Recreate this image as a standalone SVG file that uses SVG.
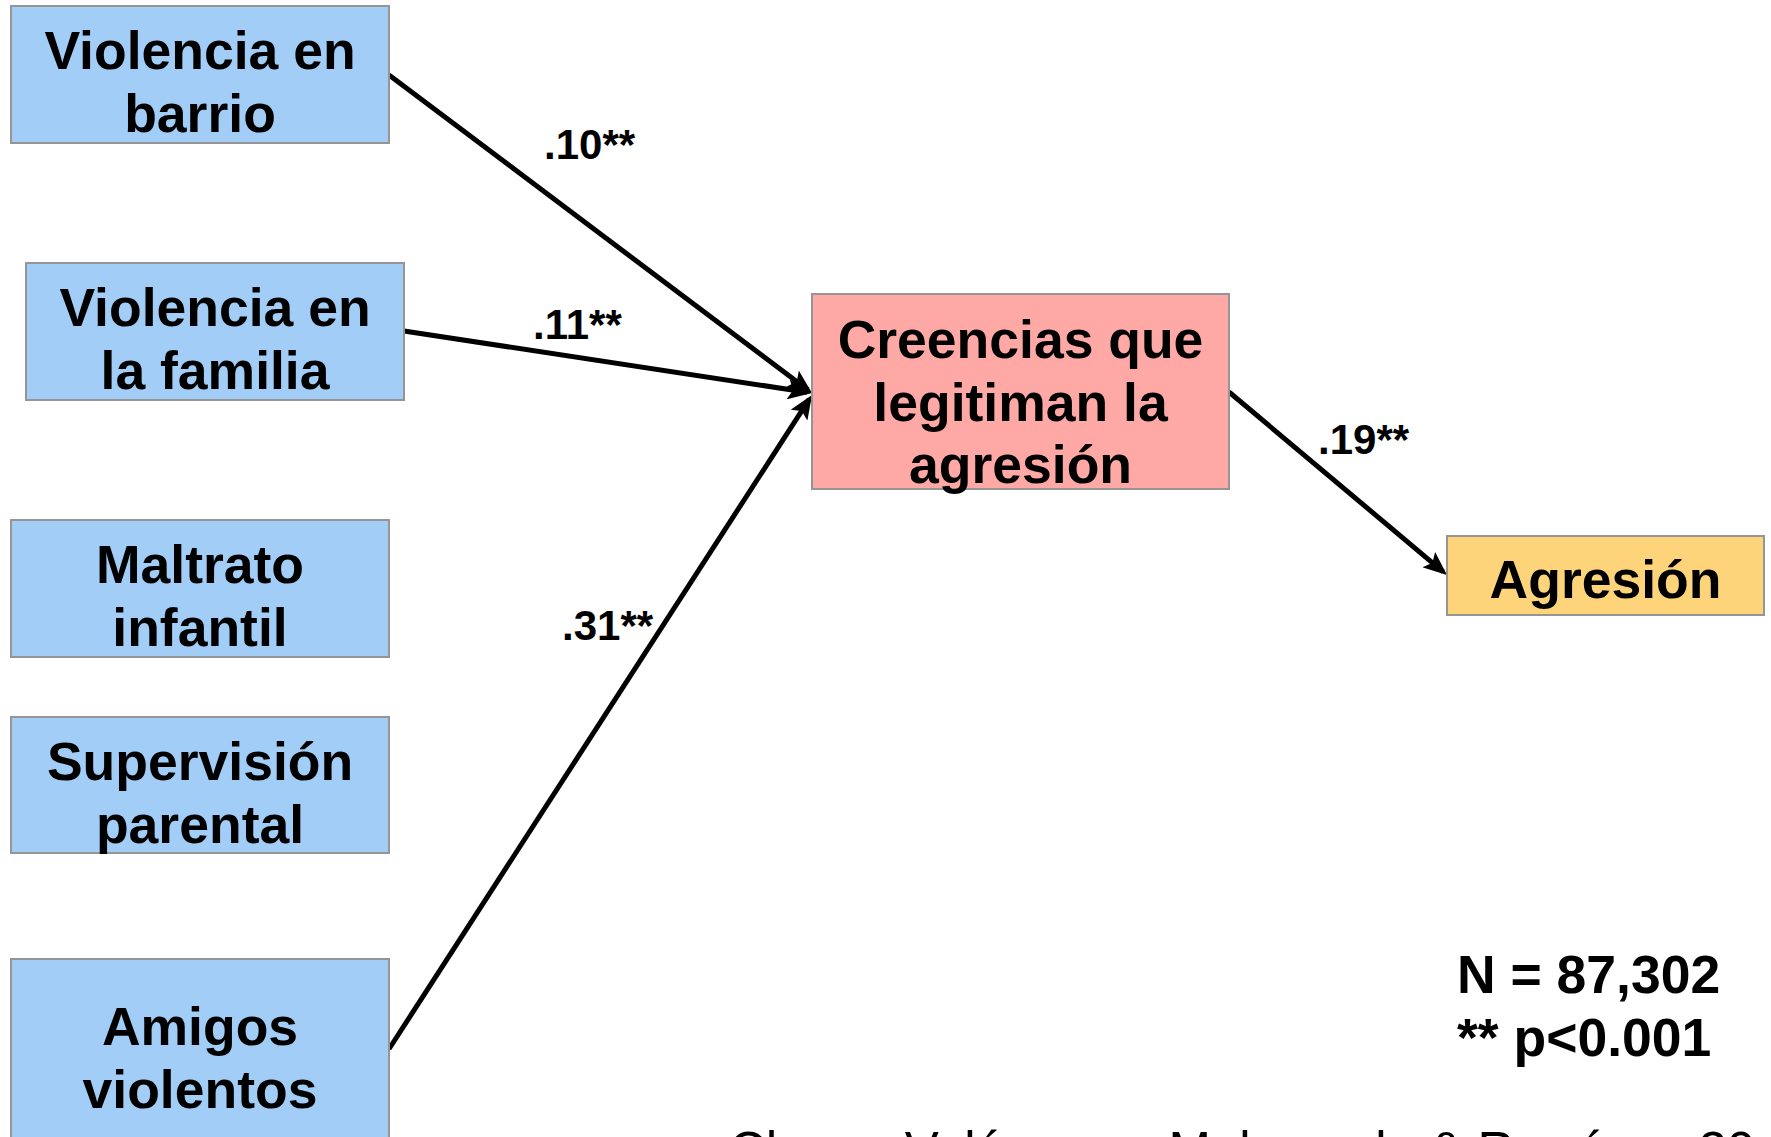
<svg xmlns="http://www.w3.org/2000/svg" width="1771" height="1137" viewBox="0 0 1771 1137">
<style>
.box{stroke:#959595;stroke-width:2}
.blue{fill:#A2CDF7}
.pink{fill:#FEA9A6}
.yellow{fill:#FED47A}
.nt{font-family:"Liberation Sans",Arial,sans-serif;font-weight:bold;font-size:53.5px;fill:#000;text-anchor:middle}
.lbl{font-family:"Liberation Sans",Arial,sans-serif;font-weight:bold;font-size:42px;fill:#000}
.note{font-family:"Liberation Sans",Arial,sans-serif;font-weight:bold;font-size:53.5px;fill:#000}
.cite{font-family:"Liberation Sans",Arial,sans-serif;font-size:51px;fill:#000}
.conn{stroke:#000;stroke-width:5;fill:none;marker-end:url(#ah)}
</style>
<defs>
<marker id="ah" markerUnits="userSpaceOnUse" viewBox="0 0 24 20" markerWidth="24" markerHeight="20" refX="19" refY="10" orient="auto">
<path d="M0,0 L24,10 L0,20 L5,10 z" fill="#000"/>
</marker>
</defs>
<rect width="1771" height="1137" fill="#fff"/>
<g id="connectors">
<line class="conn" x1="389" y1="75" x2="808" y2="390"/>
<line class="conn" x1="404" y1="331" x2="807" y2="392.2"/>
<line class="conn" x1="389" y1="1049" x2="809.3" y2="399.2"/>
<line class="conn" x1="1229" y1="392" x2="1443.2" y2="571.8"/>
<text class="lbl" x="544" y="159">.10**</text>
<text class="lbl" x="533" y="339">.11**</text>
<text class="lbl" x="562" y="640">.31**</text>
<text class="lbl" x="1318" y="454">.19**</text>
</g>
<g id="n-barrio">
<rect class="box blue" x="11" y="6" width="378" height="137"/>
<text class="nt" x="200" y="69">Violencia en</text>
<text class="nt" x="200" y="132">barrio</text>
</g>
<g id="n-familia">
<rect class="box blue" x="26" y="263" width="378" height="137"/>
<text class="nt" x="215" y="326">Violencia en</text>
<text class="nt" x="215" y="389">la familia</text>
</g>
<g id="n-maltrato">
<rect class="box blue" x="11" y="520" width="378" height="137"/>
<text class="nt" x="200" y="583">Maltrato</text>
<text class="nt" x="200" y="646">infantil</text>
</g>
<g id="n-supervision">
<rect class="box blue" x="11" y="717" width="378" height="136"/>
<text class="nt" x="200" y="780">Supervisión</text>
<text class="nt" x="200" y="843">parental</text>
</g>
<g id="n-amigos">
<rect class="box blue" x="11" y="959" width="378" height="190"/>
<text class="nt" x="200" y="1045">Amigos</text>
<text class="nt" x="200" y="1108">violentos</text>
</g>
<g id="n-creencias">
<rect class="box pink" x="812" y="294" width="417" height="195"/>
<text class="nt" x="1020.5" y="358">Creencias que</text>
<text class="nt" x="1020.5" y="421">legitiman la</text>
<text class="nt" x="1020.5" y="483">agresión</text>
</g>
<g id="n-agresion">
<rect class="box yellow" x="1447" y="536" width="317" height="79"/>
<text class="nt" x="1605.5" y="598">Agresión</text>
</g>
<g id="notes">
<text class="note" x="1457" y="993">N = 87,302</text>
<text class="note" x="1457" y="1056">** p&lt;0.001</text>
<text class="cite" x="729" y="1168">Chaux, Velásquez, Malvaceda &amp; Ramírez, 20</text>
</g>
</svg>
